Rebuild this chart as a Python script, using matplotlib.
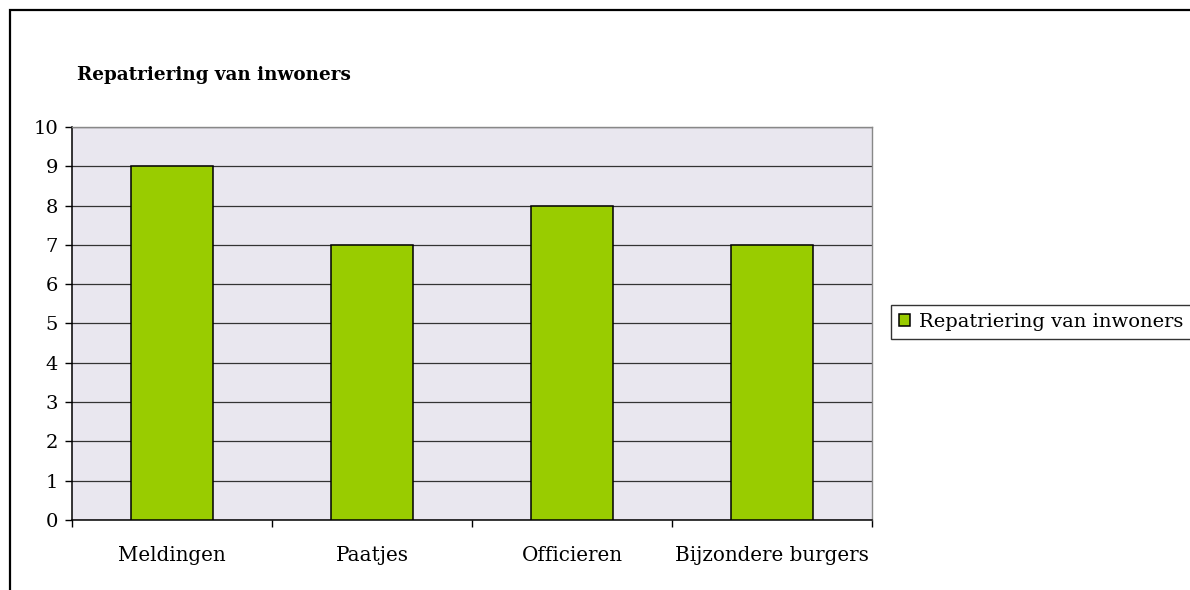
import matplotlib
matplotlib.use("Agg")
import matplotlib.pyplot as plt
from matplotlib.patches import Rectangle
import numpy as np

categories = ["Meldingen", "Paatjes", "Officieren", "Bijzondere burgers"]
values = [9, 7, 8, 7]
series_name = "Repatriering van inwoners"
title = "Repatriering van inwoners"

plt.rcParams['font.family'] = ['DejaVu Serif']

W, H = 1190, 590
fig = plt.figure(figsize=(W/100, H/100), dpi=100)
fig.patch.set_facecolor('white')

# figure border (left/top visible)
fig.add_artist(Rectangle((10/W, -0.2), 1.2, 1 - 10/H + 0.2, transform=fig.transFigure,
                         fill=False, edgecolor='black', linewidth=1.6))

ax = fig.add_axes([72/W, 1 - 520/H, 800/W, 393/H])
ax.set_facecolor('#E9E7EF')
x = np.arange(len(categories))
ax.bar(x, values, width=0.41, color='#99CC00', edgecolor='black', linewidth=1.1,
       label=series_name, zorder=3)
ax.set_xlim(-0.5, len(categories) - 0.5)
ax.set_ylim(0, 10)
ax.set_yticks(range(0, 11))
ax.yaxis.grid(True, color='#333333', linewidth=0.9, zorder=1)
ax.set_axisbelow(True)

ax.set_xticks(x)
ax.set_xticklabels(categories, fontsize=14.3)
ax.set_xticks(np.arange(-0.5, len(categories)), minor=True)
ax.tick_params(axis='x', which='major', length=0, pad=19)
ax.tick_params(axis='x', which='minor', length=5, color='black', width=1)
ax.tick_params(axis='y', length=5, width=1, labelsize=14, pad=5)

for s in ['left', 'bottom']:
    ax.spines[s].set_color('black')
    ax.spines[s].set_linewidth(1.1)
for s in ['top', 'right']:
    ax.spines[s].set_color('#888888')
    ax.spines[s].set_linewidth(1.0)

fig.text(77/W, 1 - 75/H, title, fontsize=13.2, fontweight='bold', va='center', ha='left')

leg = fig.legend(loc='center left', bbox_to_anchor=(891/W, 1 - 322/H), fontsize=14,
                 frameon=True, fancybox=False, edgecolor='black', handlelength=0.6,
                 handleheight=0.6, handletextpad=0.45, borderpad=0.4, borderaxespad=0)
leg.get_frame().set_linewidth(1.0)

fig.savefig("out.png", dpi=100)
